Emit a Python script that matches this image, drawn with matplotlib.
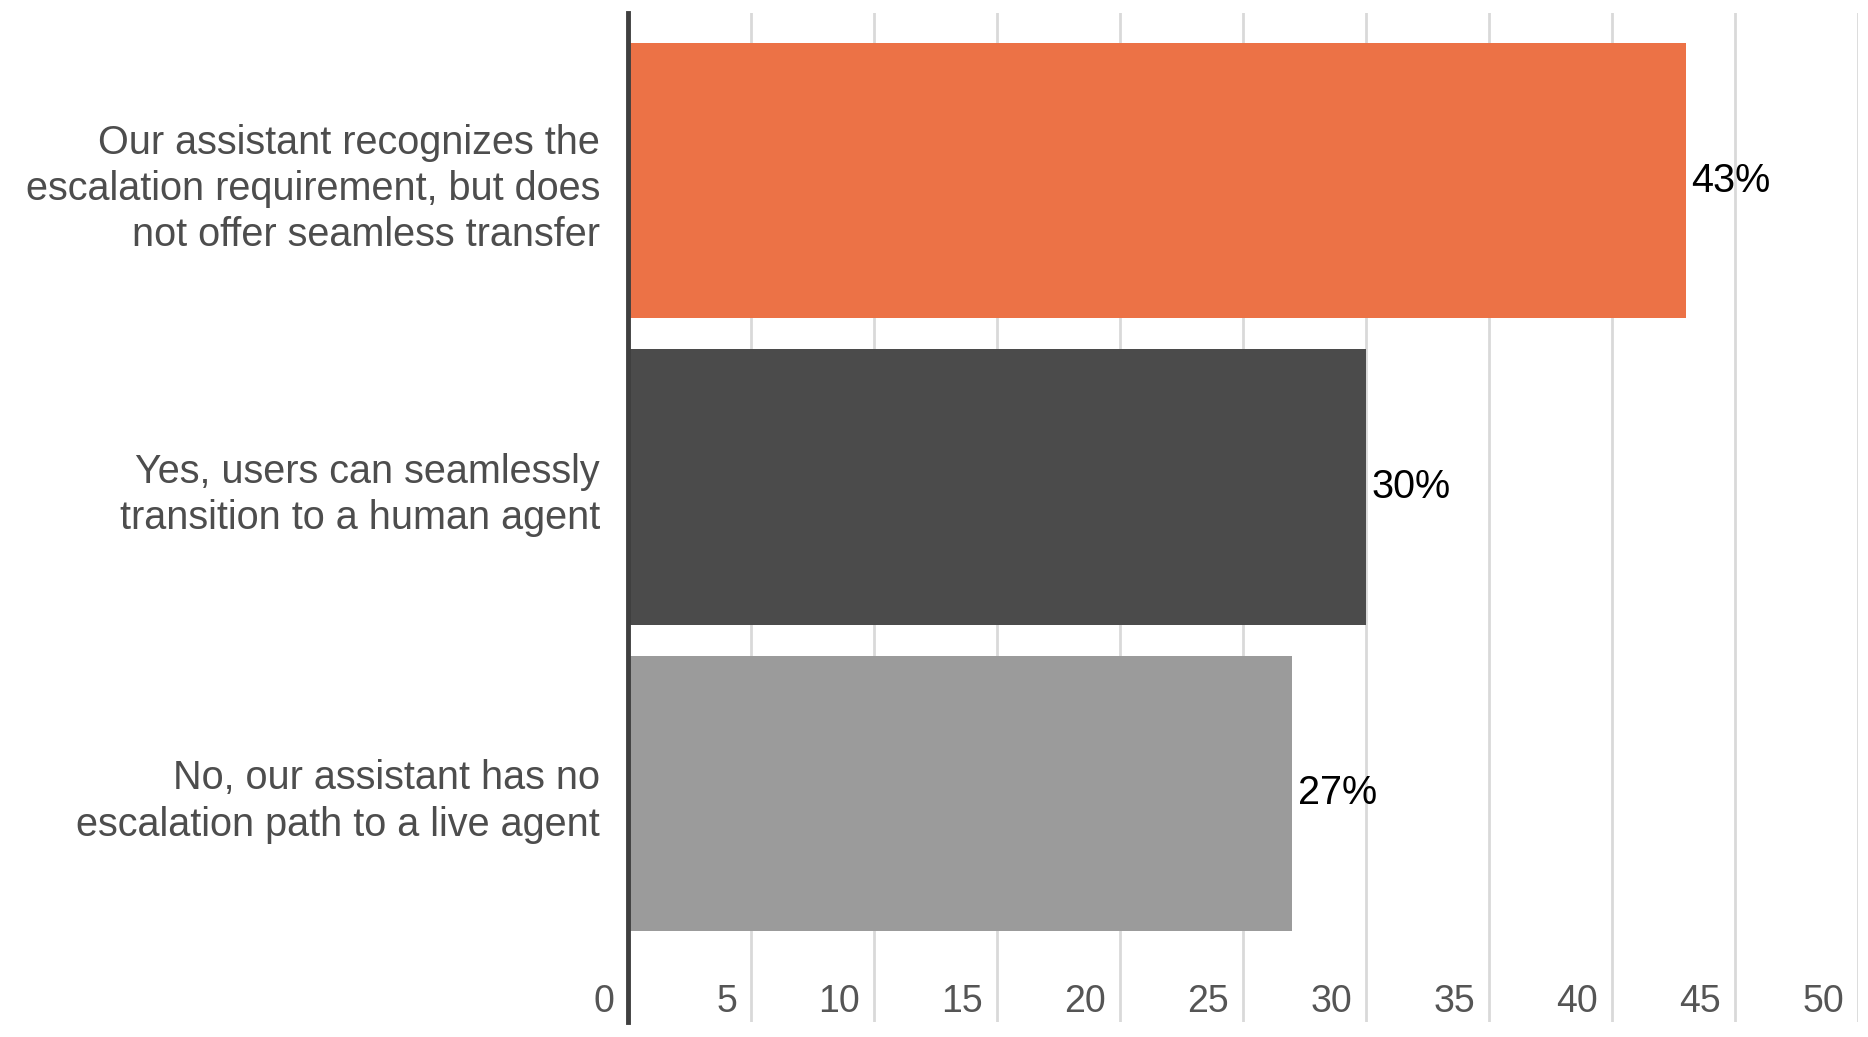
import matplotlib.pyplot as plt

plt.rcParams['font.family'] = ['Liberation Sans', 'DejaVu Sans']

# data
categories = [
    "Our assistant recognizes the\nescalation requirement, but does\nnot offer seamless transfer",
    "Yes, users can seamlessly\ntransition to a human agent",
    "No, our assistant has no\nescalation path to a live agent",
]
values = [43, 30, 27]
bar_colors = ["#EC7246", "#4B4B4B", "#9B9B9B"]
ticks = [0, 5, 10, 15, 20, 25, 30, 35, 40, 45, 50]

W, H = 1868, 1037
fig = plt.figure(figsize=(W / 100, H / 100), dpi=100)
# axes box in pixel terms: left 628, right 1858, top 13, bottom 1022
ax = fig.add_axes([628 / W, 1 - 1022 / H, (1858 - 628) / W, (1022 - 13) / H])

pos = list(range(len(values)))
ax.barh(pos, values, height=0.9, color=bar_colors, zorder=2)
ax.set_xlim(0, 50)
ax.set_ylim(2.746, -0.547)

# vertical gridlines
for t in ticks[1:]:
    ax.axvline(t, color="#D9D9D9", lw=2, zorder=1)

# tick labels sit inside the plot area at the bottom
for t in ticks:
    ax.annotate(str(t), (t, 2.68), xytext=(-10, 0), textcoords="offset points",
                ha="right", va="center", fontsize=27, color="#555555")

# value labels
for p, v in zip(pos, values):
    ax.annotate(f"{v}%", (v, p), xytext=(4, 0), textcoords="offset points",
                ha="left", va="center", fontsize=28.5, color="#000000")

# category labels
ax.set_yticks(pos)
ax.set_yticklabels(categories, fontsize=28.5, color="#4D4D4D", linespacing=1.27)
ax.tick_params(axis="y", length=0, pad=20)
ax.set_xticks([])

for s in ["top", "right", "bottom"]:
    ax.spines[s].set_visible(False)
ax.spines["left"].set_color("#3F3F3F")
ax.spines["left"].set_linewidth(3.5)
ax.spines["left"].set_zorder(3)

fig.savefig("out.png", dpi=100)
